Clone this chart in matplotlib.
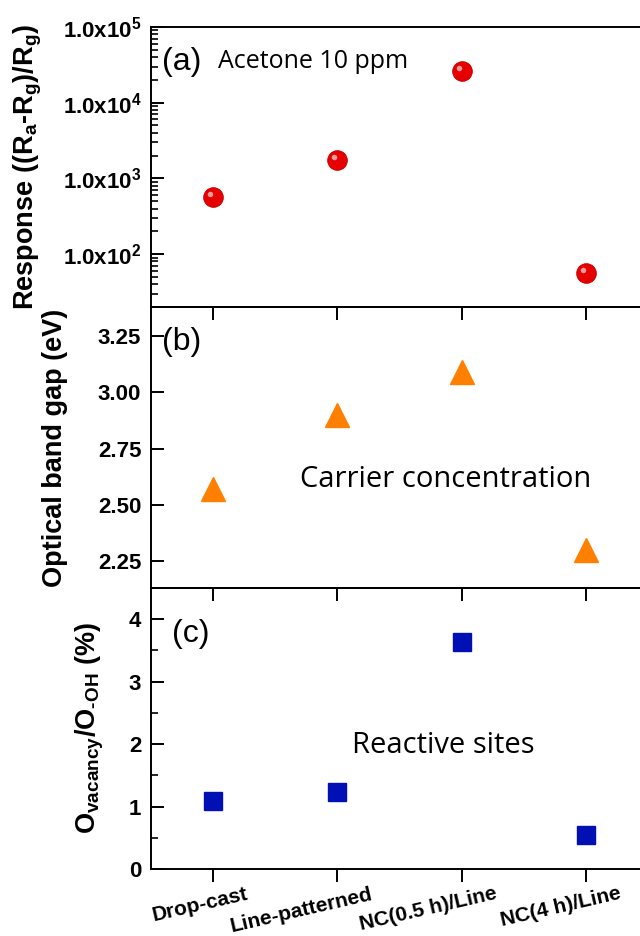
import numpy as np
import matplotlib
matplotlib.use("Agg")
import matplotlib.pyplot as plt
from matplotlib.ticker import FuncFormatter, LogLocator, MultipleLocator, NullFormatter
from matplotlib.transforms import ScaledTranslation

# data
samples = ["Drop-cast", "Line-patterned", "NC(0.5 h)/Line", "NC(4 h)/Line"]
response = [560, 1750, 26500, 56]
band_gap = [2.57, 2.90, 3.09, 2.30]
vacancy_ratio = [1.09, 1.24, 3.64, 0.55]

plt.rcParams["font.family"] = ["Liberation Sans", "DejaVu Sans"]
plt.rcParams["font.weight"] = "bold"
plt.rcParams["axes.labelweight"] = "bold"
plt.rcParams["mathtext.fontset"] = "custom"
plt.rcParams["mathtext.rm"] = "Liberation Sans:bold"
plt.rcParams["mathtext.it"] = "Liberation Sans:bold"
plt.rcParams["mathtext.bf"] = "Liberation Sans:bold"
plt.rcParams["mathtext.default"] = "rm"

fig = plt.figure(figsize=(6.4, 9.36), dpi=100)
W, H = 640.0, 936.0
left, right = 151 / W, 648 / W
tops = [27, 307, 588]
bots = [307, 588, 869]
axs = [fig.add_axes([left, 1 - b / H, right - left, (b - t) / H]) for t, b in zip(tops, bots)]

x = np.arange(1, len(samples) + 1)
tick_fs = 16
label_fs = 19.5
note_font = ["Open Sans", "DejaVu Sans"]

for ax in axs:
    ax.set_xlim(0.5, 4.5)
    ax.set_xticks(x)
    for s in ax.spines.values():
        s.set_linewidth(1.4)
    ax.tick_params(axis="x", which="both", direction="out", length=9, width=1.4,
                   top=False, bottom=True, pad=2)
    ax.tick_params(axis="y", which="major", direction="in", length=9, width=1.4,
                   labelsize=tick_fs, pad=7)
    ax.tick_params(axis="y", which="minor", direction="in", length=5, width=1.2)
    ax.patch.set_alpha(0)

# (a) response, log scale
ax = axs[0]
ax.set_yscale("log")
ax.set_ylim(20, 1e5)
ax.yaxis.set_major_locator(LogLocator(base=10, numticks=10))
ax.yaxis.set_minor_locator(LogLocator(base=10, subs=np.arange(2, 10), numticks=20))
ax.yaxis.set_minor_formatter(NullFormatter())
ax.yaxis.set_major_formatter(FuncFormatter(lambda v, p: "1.0x10$^{%d}$" % round(np.log10(v))))
ax.plot(x, response, "o", ms=14, color="#e60000", mec="#d00000", mew=0.8, zorder=3)
hl = ax.transData + ScaledTranslation(-3 / 100, 3 / 100, fig.dpi_scale_trans)
ax.plot(x, response, "o", ms=4, color="#ff9a9a", mec="none", transform=hl, zorder=4)
ax.set_xticklabels([])
ax.set_ylabel("Response ((R$_{a}$-R$_{g}$)/R$_{g}$)", fontsize=label_fs)
ax.yaxis.set_label_coords(-0.215, 0.5)
ax.text(0.022, 0.875, "(a)", transform=ax.transAxes, fontsize=23, fontweight="normal",
        va="center", ha="left")
ax.text(0.135, 0.875, "Acetone 10 ppm", transform=ax.transAxes, fontsize=18,
        fontweight="normal", family=note_font, va="center", ha="left")

# (b) optical band gap
ax = axs[1]
ax.set_ylim(2.13, 3.38)
ax.yaxis.set_major_locator(MultipleLocator(0.25))
ax.yaxis.set_major_formatter(FuncFormatter(lambda v, p: "%.2f" % v))
ax.plot(x, band_gap, "^", ms=17, color="#ff8000", mec="#ff8000", zorder=3)
ax.set_xticklabels([])
ax.set_ylabel("Optical band gap (eV)", fontsize=label_fs)
ax.yaxis.set_label_coords(-0.167, 0.5)
ax.text(0.022, 0.875, "(b)", transform=ax.transAxes, fontsize=23, fontweight="normal",
        va="center", ha="left")
ax.text(0.3, 0.385, "Carrier concentration", transform=ax.transAxes, fontsize=21,
        fontweight="normal", family=note_font, va="center", ha="left")

# (c) oxygen vacancy ratio
ax = axs[2]
ax.set_ylim(0, 4.5)
ax.yaxis.set_major_locator(MultipleLocator(1))
ax.yaxis.set_minor_locator(MultipleLocator(0.5))
ax.plot(x, vacancy_ratio, "s", ms=13, color="#0010b4", mec="#0010b4", zorder=3)
ax.set_ylabel(r"O$_{vacancy}$/O$_{\text{-OH}}$ (%)", fontsize=label_fs)
ax.yaxis.set_label_coords(-0.09, 0.5)
ax.text(0.042, 0.835, "(c)", transform=ax.transAxes, fontsize=23, fontweight="normal",
        va="center", ha="left")
ax.text(0.405, 0.44, "Reactive sites", transform=ax.transAxes, fontsize=21,
        fontweight="normal", family=note_font, va="center", ha="left")
ax.set_xticklabels(samples, fontsize=15, fontweight="bold", rotation=13, ha="right")
# right ends of the labels sit a bit right of their ticks in the original
shift = ScaledTranslation(37 / 100, 0, fig.dpi_scale_trans)
for lab in ax.get_xticklabels():
    lab.set_transform(lab.get_transform() + shift)

fig.savefig("out.png", dpi=100)
